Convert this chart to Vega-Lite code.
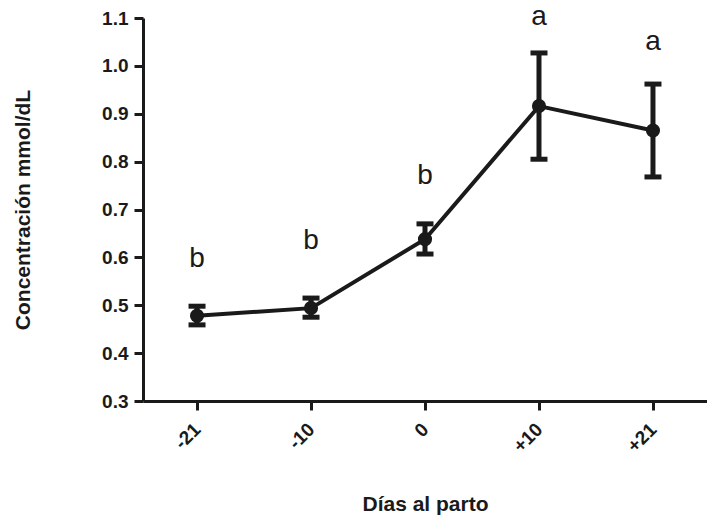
{
  "$schema": "https://vega.github.io/schema/vega-lite/v6.json",
  "autosize": "none",
  "width": 564,
  "height": 383,
  "padding": {"left": 143, "top": 18, "right": 0, "bottom": 121},
  "background": "white",
  "config": {
    "view": {"stroke": null},
    "font": "Liberation Sans"
  },
  "data": {
    "values": [
      {"dia": "-21", "media": 0.478, "lo": 0.459, "hi": 0.498, "letra": "b", "ly": 0.580},
      {"dia": "-10", "media": 0.494, "lo": 0.475, "hi": 0.515, "letra": "b", "ly": 0.6175},
      {"dia": "0", "media": 0.638, "lo": 0.607, "hi": 0.670, "letra": "b", "ly": 0.753},
      {"dia": "+10", "media": 0.916, "lo": 0.805, "hi": 1.027, "letra": "a", "ly": 1.085},
      {"dia": "+21", "media": 0.865, "lo": 0.768, "hi": 0.962, "letra": "a", "ly": 1.033}
    ]
  },
  "encoding": {
    "x": {
      "field": "dia",
      "type": "ordinal",
      "sort": ["-21", "-10", "0", "+10", "+21"],
      "scale": {"type": "point", "padding": 0.474},
      "axis": {
        "title": "Días al parto",
        "titleFont": "Liberation Sans",
        "titleFontSize": 21,
        "titleFontWeight": "bold",
        "titleColor": "#1a1a1a",
        "titlePadding": 38,
        "labelAngle": -45,
        "labelAlign": "right",
        "labelBaseline": "middle",
        "labelFont": "Liberation Sans",
        "labelFontSize": 19,
        "labelFontWeight": "bold",
        "labelColor": "#1a1a1a",
        "labelPadding": 16,
        "domainColor": "#1a1a1a",
        "domainWidth": 3,
        "tickColor": "#1a1a1a",
        "tickWidth": 3,
        "tickSize": 9,
        "grid": false
      }
    }
  },
  "layer": [
    {
      "mark": {"type": "line", "color": "#1a1a1a", "strokeWidth": 4},
      "encoding": {
        "y": {
          "field": "media",
          "type": "quantitative",
          "scale": {"domain": [0.3, 1.1], "nice": false, "zero": false},
          "axis": {
            "title": "Concentración mmol/dL",
            "titleFont": "Liberation Sans",
            "titleFontSize": 21,
            "titleFontWeight": "bold",
            "titleColor": "#1a1a1a",
            "titlePadding": 68,
            "values": [0.3, 0.4, 0.5, 0.6, 0.7, 0.8, 0.9, 1.0, 1.1],
            "format": ".1f",
            "labelFont": "Liberation Sans",
            "labelFontSize": 19,
            "labelFontWeight": "bold",
            "labelColor": "#1a1a1a",
            "labelPadding": 6,
            "domainColor": "#1a1a1a",
            "domainWidth": 3,
            "tickColor": "#1a1a1a",
            "tickWidth": 3,
            "tickSize": 9,
            "grid": false
          }
        }
      }
    },
    {
      "mark": {"type": "rule", "color": "#1a1a1a", "strokeWidth": 5},
      "encoding": {
        "y": {"field": "lo", "type": "quantitative"},
        "y2": {"field": "hi"}
      }
    },
    {
      "mark": {"type": "tick", "color": "#1a1a1a", "size": 17, "thickness": 5, "orient": "horizontal", "opacity": 1},
      "encoding": {
        "y": {"field": "lo", "type": "quantitative"}
      }
    },
    {
      "mark": {"type": "tick", "color": "#1a1a1a", "size": 17, "thickness": 5, "orient": "horizontal", "opacity": 1},
      "encoding": {
        "y": {"field": "hi", "type": "quantitative"}
      }
    },
    {
      "mark": {"type": "point", "filled": true, "shape": "circle", "size": 200, "color": "#1a1a1a", "opacity": 1},
      "encoding": {
        "y": {"field": "media", "type": "quantitative"}
      }
    },
    {
      "mark": {"type": "text", "font": "Liberation Sans", "fontSize": 28, "color": "#1a1a1a", "baseline": "alphabetic", "align": "center"},
      "encoding": {
        "y": {"field": "ly", "type": "quantitative"},
        "text": {"field": "letra"}
      }
    }
  ]
}
